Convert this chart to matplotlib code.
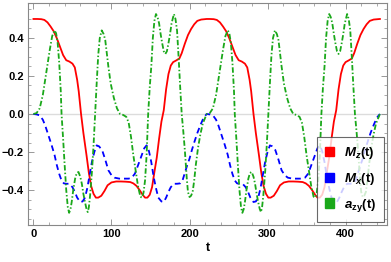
import matplotlib
matplotlib.use("Agg")
import matplotlib.pyplot as plt
from matplotlib.patches import Patch
from matplotlib.ticker import MultipleLocator

plt.rcParams['font.family'] = ['Liberation Sans', 'DejaVu Sans']
plt.rcParams['mathtext.fontset'] = 'custom'
plt.rcParams['mathtext.rm'] = 'Liberation Sans:bold'
plt.rcParams['mathtext.it'] = 'Liberation Sans:bold:italic'
plt.rcParams['mathtext.bf'] = 'Liberation Sans:bold'
plt.rcParams['mathtext.bfit'] = 'Liberation Sans:bold:italic'

# values
t_mz = [0, 5, 10, 14, 18, 22, 26, 30, 34, 38, 42, 46, 50, 53, 56, 58, 61, 64, 68, 71,
        74, 77, 80, 83, 87, 91, 95, 100, 106, 112, 118, 124, 128, 132, 136, 140, 143, 146,
        149, 152, 155, 158, 161, 164, 167, 170, 173, 176, 179, 183, 187, 190, 194, 198,
        202, 206, 210, 215, 222,
        226, 231, 235, 239, 243, 247, 251, 255, 259, 263, 267, 271, 274, 277, 279, 282,
        285, 289, 292, 295, 298, 301, 304, 308, 312, 316, 321, 327, 333, 339, 345, 349,
        353, 357, 361, 364, 367, 370, 373, 376, 379, 382, 385, 388, 391, 394, 397, 400,
        404, 408, 411, 415, 419, 423, 427, 431, 436, 444]
mz = [0.5, 0.5, 0.499, 0.495, 0.482, 0.46, 0.435, 0.398, 0.354, 0.31, 0.283, 0.276, 0.265,
      0.245, 0.18, 0.12, 0.0, -0.1, -0.217, -0.31, -0.38, -0.42, -0.44, -0.44, -0.43,
      -0.405, -0.375, -0.36, -0.355, -0.355, -0.356, -0.358, -0.365, -0.378, -0.4, -0.425,
      -0.44, -0.44, -0.425, -0.385, -0.305, -0.23, -0.13, -0.04, 0.02, 0.13, 0.21, 0.255,
      0.273, 0.282, 0.292, 0.32, 0.37, 0.415, 0.447, 0.472, 0.49, 0.497, 0.5,
      0.5, 0.499, 0.495, 0.482, 0.46, 0.435, 0.398, 0.354, 0.31, 0.283, 0.276, 0.265,
      0.245, 0.18, 0.12, 0.0, -0.1, -0.217, -0.31, -0.38, -0.42, -0.44, -0.44, -0.43,
      -0.405, -0.375, -0.36, -0.355, -0.355, -0.356, -0.358, -0.365, -0.378, -0.4, -0.425,
      -0.44, -0.44, -0.425, -0.385, -0.305, -0.23, -0.13, -0.04, 0.02, 0.13, 0.21, 0.255,
      0.273, 0.282, 0.292, 0.32, 0.37, 0.415, 0.447, 0.472, 0.49, 0.497, 0.5]

t_mx = [0, 4, 8, 12, 15, 19, 23, 27, 30, 33, 36, 39, 42, 46, 50, 53, 56, 60, 63, 66, 69,
        72, 75, 78, 81, 84, 88, 92, 96, 100, 104, 110, 116, 122, 126, 130, 134, 138, 142,
        145, 148, 151, 154, 157, 160, 164, 167, 170, 173, 176, 180, 184, 188, 191, 194,
        197, 200, 203, 206, 210, 214, 218, 222,
        226, 230, 234, 237, 241, 245, 249, 252, 255, 258, 261, 264, 268, 272, 275, 278,
        282, 285, 288, 291, 294, 297, 300, 303, 306, 310, 314, 318, 322, 326, 332, 338,
        344, 348, 352, 356, 360, 364, 367, 370, 373, 376, 379, 382, 386, 389, 392, 395,
        398, 402, 406, 410, 413, 416, 419, 422, 425, 428, 432, 436, 440, 444]
mx = [0.0, -0.002, -0.007, -0.03, -0.06, -0.11, -0.16, -0.215, -0.27, -0.315, -0.35,
      -0.365, -0.367, -0.367, -0.385, -0.41, -0.44, -0.463, -0.46, -0.44, -0.39, -0.32,
      -0.25, -0.2, -0.165, -0.17, -0.19, -0.24, -0.296, -0.322, -0.335, -0.34, -0.34,
      -0.34, -0.335, -0.314, -0.27, -0.225, -0.18, -0.165, -0.195, -0.253, -0.33, -0.39,
      -0.44, -0.46, -0.463, -0.44, -0.41, -0.385, -0.367, -0.367, -0.365, -0.35, -0.31,
      -0.27, -0.235, -0.19, -0.15, -0.1, -0.058, -0.02, 0.0,
      -0.002, -0.007, -0.03, -0.06, -0.11, -0.16, -0.215, -0.27, -0.315, -0.35, -0.365,
      -0.367, -0.367, -0.385, -0.41, -0.44, -0.463, -0.46, -0.44, -0.39, -0.32, -0.25,
      -0.2, -0.165, -0.17, -0.19, -0.24, -0.296, -0.322, -0.335, -0.34, -0.34, -0.34,
      -0.335, -0.314, -0.27, -0.225, -0.18, -0.165, -0.195, -0.253, -0.33, -0.39, -0.44,
      -0.46, -0.463, -0.44, -0.41, -0.385, -0.367, -0.367, -0.365, -0.35, -0.31, -0.27,
      -0.235, -0.19, -0.15, -0.1, -0.058, -0.02, 0.0]

t_azy = [0, 4, 8, 12, 15, 18, 21, 24, 27, 29, 31, 33, 35, 36, 38, 40, 42, 44, 45.7, 47.5,
         49, 51, 53.4, 55.5, 57.7, 60, 62, 64, 66, 68, 69.6, 71, 72.6, 75, 77, 79, 81, 83,
         85, 87.5, 90, 92, 94, 96, 99, 103, 107, 111, 115, 119, 122, 125, 128, 131, 134,
         137, 139, 141, 143, 145, 147, 149, 151, 153, 155, 157, 159, 161, 163, 165, 167,
         169, 171, 173, 175, 177, 180, 182, 184, 186, 188, 190, 192, 194, 196.5, 198, 200,
         202, 204, 206, 208, 211, 214, 217, 220, 222,
         226, 230, 234, 237, 240, 243, 246, 249, 251, 253, 255, 257, 258, 260, 262, 264,
         266, 267.7, 269.5, 271, 273, 275.4, 277.5, 279.7, 282, 284, 286, 288, 290, 291.6,
         293, 294.6, 297, 299, 301, 303, 305, 307, 309.5, 312, 314, 316, 318, 321, 325,
         329, 333, 337, 341, 344, 347, 350, 353, 356, 359, 361, 363, 365, 367, 369, 371,
         373, 375, 377, 379, 381, 383, 385, 387, 389, 391, 393, 395, 397, 399, 402, 404,
         406, 408, 410, 412, 414, 416, 418.5, 420, 422, 424, 426, 428, 430, 433, 436, 439,
         442, 444]
azy = [0.0, 0.005, 0.03, 0.1, 0.18, 0.26, 0.34, 0.41, 0.44, 0.425, 0.375, 0.27, 0.12, 0.0,
       -0.13, -0.27, -0.4, -0.49, -0.52, -0.5, -0.463, -0.4, -0.34, -0.31, -0.305, -0.33,
       -0.367, -0.42, -0.463, -0.5, -0.516, -0.49, -0.428, -0.3, -0.165, 0.0, 0.16, 0.31,
       0.4, 0.44, 0.42, 0.389, 0.32, 0.25, 0.16, 0.085, 0.03, 0.0, -0.005, -0.015, -0.045,
       -0.12, -0.217, -0.3, -0.38, -0.435, -0.44, -0.415, -0.35, -0.217, 0.0, 0.14, 0.249,
       0.4, 0.49, 0.526, 0.51, 0.477, 0.42, 0.372, 0.33, 0.316, 0.33, 0.372, 0.42, 0.477,
       0.526, 0.5, 0.44, 0.3, 0.144, 0.0, -0.09, -0.19, -0.34, -0.41, -0.437, -0.43, -0.41,
       -0.35, -0.27, -0.175, -0.105, -0.05, -0.02, 0.0,
       0.005, 0.03, 0.1, 0.18, 0.26, 0.34, 0.41, 0.44, 0.425, 0.375, 0.27, 0.12, 0.0,
       -0.13, -0.27, -0.4, -0.49, -0.52, -0.5, -0.463, -0.4, -0.34, -0.31, -0.305, -0.33,
       -0.367, -0.42, -0.463, -0.5, -0.516, -0.49, -0.428, -0.3, -0.165, 0.0, 0.16, 0.31,
       0.4, 0.44, 0.42, 0.389, 0.32, 0.25, 0.16, 0.085, 0.03, 0.0, -0.005, -0.015, -0.045,
       -0.12, -0.217, -0.3, -0.38, -0.435, -0.44, -0.415, -0.35, -0.217, 0.0, 0.14, 0.249,
       0.4, 0.49, 0.526, 0.51, 0.477, 0.42, 0.372, 0.33, 0.316, 0.33, 0.372, 0.42, 0.477,
       0.526, 0.5, 0.44, 0.3, 0.144, 0.0, -0.09, -0.19, -0.34, -0.41, -0.437, -0.43, -0.41,
       -0.35, -0.27, -0.175, -0.105, -0.05, -0.02, 0.0]

labels = [r'$\mathbfit{M}_{\mathbfit{z}}$(t)', r'$\mathbfit{M}_{\mathbfit{x}}$(t)',
          r'$\mathbfit{a}_{\mathbf{zy}}$(t)']
colors = ['#ff0000', '#0000ff', '#1aa81a']

fig = plt.figure(figsize=(3.91, 2.62), dpi=100)
ax = fig.add_axes([0.0716, 0.1412, 0.918, 0.8473])

ax.axhline(0, color='#dcdcdc', lw=1.0, zorder=0)
ax.plot(t_mz, mz, color=colors[0], lw=1.3)
ax.plot(t_mx, mx, color=colors[1], lw=1.3, linestyle=(0, (3.2, 2.2)))
ax.plot(t_azy, azy, color=colors[2], lw=1.3, linestyle=(0, (3.0, 1.2, 0.8, 1.2)))

ax.set_xlim(-7, 453)
ax.set_ylim(-0.584, 0.584)
ax.xaxis.set_major_locator(MultipleLocator(100))
ax.xaxis.set_minor_locator(MultipleLocator(20))
ax.yaxis.set_major_locator(MultipleLocator(0.2))
ax.yaxis.set_minor_locator(MultipleLocator(0.05))
ax.tick_params(which='both', direction='in', top=True, right=True, color='#888888',
               labelsize=8, labelcolor='black', pad=3)
ax.tick_params(which='major', length=4, width=0.6)
ax.tick_params(which='minor', length=2, width=0.5)
for lab in ax.get_xticklabels() + ax.get_yticklabels():
    lab.set_fontweight('bold')
ax.yaxis.set_major_formatter(matplotlib.ticker.FuncFormatter(
    lambda v, p: ('%.1f' % v).replace('-', '\u2212') if abs(v) > 1e-9 else '0.0'))
for s in ax.spines.values():
    s.set_color('#888888')
    s.set_linewidth(0.8)
ax.set_xlabel('t', fontsize=9, fontweight='bold', labelpad=2)

handles = [Patch(facecolor=c, edgecolor=c) for c in colors]
leg = ax.legend(handles, labels, loc='lower right', fontsize=9.5, frameon=True,
                fancybox=False, handlelength=0.7, handleheight=0.7, handletextpad=0.7,
                borderpad=0.6, labelspacing=0.75, borderaxespad=0.25)
leg.get_frame().set_edgecolor('#444444')
leg.get_frame().set_linewidth(0.8)
for tx in leg.get_texts():
    tx.set_fontweight('bold')

fig.savefig('out.png', dpi=100)
